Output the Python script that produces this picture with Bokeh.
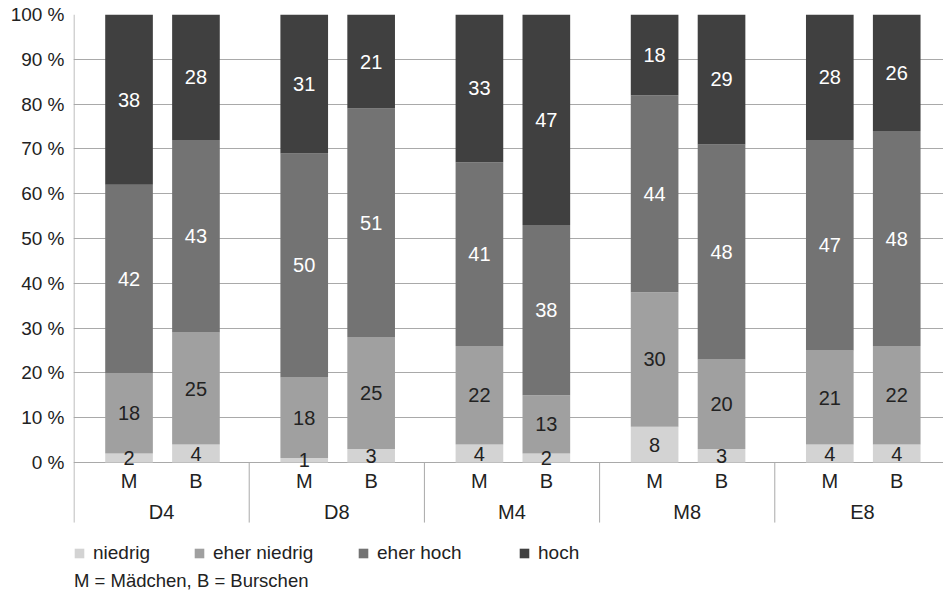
from bokeh.plotting import figure
from bokeh.models import Range1d, FixedTicker, Legend, LegendItem, Label, ColumnDataSource
from bokeh.core.properties import value
from bokeh.embed import file_html
from bokeh.resources import INLINE

# Categories
groups = ["D4", "D8", "M4", "M8", "E8"]
subgroups = ["M", "B"]
levels = ["niedrig", "eher niedrig", "eher hoch", "hoch"]

# Shares in percent, order: D4 M, D4 B, D8 M, D8 B, M4 M, M4 B, M8 M, M8 B, E8 M, E8 B
niedrig = [2, 4, 1, 3, 4, 2, 8, 3, 4, 4]
eher_niedrig = [18, 25, 18, 25, 22, 13, 30, 20, 21, 22]
eher_hoch = [42, 43, 50, 51, 41, 38, 44, 48, 47, 48]
hoch = [38, 28, 31, 21, 33, 47, 18, 29, 28, 26]

y_ticks = [0, 10, 20, 30, 40, 50, 60, 70, 80, 90, 100]
note = "M = Mädchen, B = Burschen"

# Styling
FONT = "Liberation Sans"
TEXT = "#222222"
GRID = "#a9a9a9"
colors = ["#d3d3d3", "#a0a0a0", "#737373", "#404040"]
label_colors = [TEXT, TEXT, "#ffffff", "#ffffff"]
sub_offsets = [0.314, 0.696]
bar_width = 0.272
axis_depth = -13.4   # how far the category separators reach below 0 %
legend_x = [0, 120, 284, 445]   # screen offsets of the legend entries

series = [niedrig, eher_niedrig, eher_hoch, hoch]
keys = ["niedrig", "eher_niedrig", "eher_hoch", "hoch"]

xs, sub_labels = [], []
for gi, g in enumerate(groups):
    for si, s in enumerate(subgroups):
        xs.append(gi + sub_offsets[si])
        sub_labels.append(s)

data = {"x": xs}
for k, vals in zip(keys, series):
    data[k] = vals
source = ColumnDataSource(data)

p = figure(
    width=943, height=594,
    x_range=Range1d(-0.003, 4.963),
    y_range=Range1d(-29.46, 100),
    output_backend="svg", toolbar_location=None,
    x_axis_location=None,
    min_border_left=73, min_border_right=0, min_border_top=14, min_border_bottom=0,
)
p.outline_line_color = None
p.background_fill_color = "white"
p.xgrid.visible = False
p.ygrid.ticker = FixedTicker(ticks=y_ticks)
p.ygrid.grid_line_color = GRID
p.ygrid.grid_line_width = 1

ax = p.yaxis[0]
ax.ticker = FixedTicker(ticks=y_ticks)
ax.major_label_overrides = {t: f"{t} %" for t in y_ticks}
ax.axis_line_color = None
ax.major_tick_line_color = None
ax.minor_tick_line_color = None
ax.major_tick_in = 0
ax.major_tick_out = 0
ax.major_label_standoff = 9
ax.major_label_text_font = FONT
ax.major_label_text_font_size = "19px"
ax.major_label_text_color = TEXT

renderers = p.vbar_stack(keys, x="x", width=bar_width, color=colors, source=source, line_color=None)

# value labels at the centre of each segment
lab_x, lab_y, lab_t, lab_c = [], [], [], []
for i in range(len(xs)):
    base = 0
    for li, vals in enumerate(series):
        v = vals[i]
        lab_x.append(xs[i])
        lab_y.append(base + v / 2)
        lab_t.append(str(v))
        lab_c.append(label_colors[li])
        base += v
p.text(x=lab_x, y=lab_y, text=lab_t, text_color=lab_c, text_align="center",
       text_baseline="middle", text_font=value(FONT), text_font_size="20px")

# category axis: separators, sub labels and group labels
bounds = list(range(len(groups)))
p.segment(x0=bounds, y0=[0] * len(bounds), x1=bounds, y1=[axis_depth] * len(bounds),
          line_color=GRID, line_width=1)
p.segment(x0=[0], y0=[100], x1=[0], y1=[0], line_color=GRID, line_width=1)

p.text(x=xs, y=[-4.1] * len(xs), text=sub_labels, text_color=TEXT, text_align="center",
       text_baseline="middle", text_font=value(FONT), text_font_size="20px")
p.text(x=[gi + 0.5 for gi in range(len(groups))], y=[-11.15] * len(groups), text=groups,
       text_color=TEXT, text_align="center", text_baseline="middle",
       text_font=value(FONT), text_font_size="20px")

# one legend per entry so each sits at its own column
for lvl, r, lx in zip(levels, renderers, legend_x):
    p.add_layout(Legend(
        items=[LegendItem(label=lvl, renderers=[r])],
        orientation="horizontal", location=(lx, 30), padding=0, margin=0,
        border_line_color=None, background_fill_alpha=0,
        glyph_width=12, glyph_height=12, label_standoff=8,
        label_text_font=FONT, label_text_font_size="19px", label_text_color=TEXT,
    ))

p.add_layout(Label(x=0, y=-26.3, text=note, text_font=FONT, text_font_size="18.5px",
                   text_color=TEXT, text_baseline="middle"))

open("out.html", "w").write(file_html(p, INLINE))
